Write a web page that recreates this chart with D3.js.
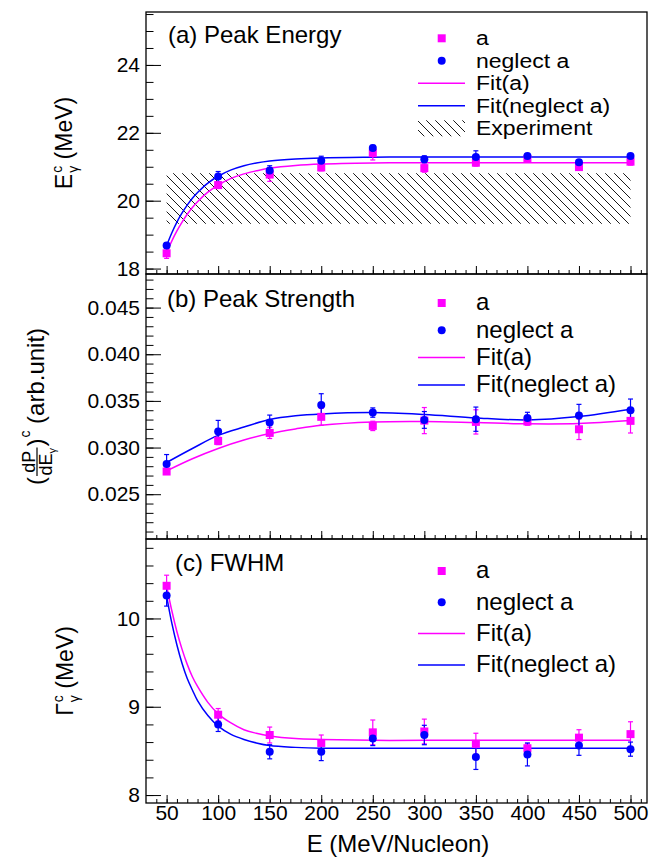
<!DOCTYPE html>
<html>
<head>
<meta charset="utf-8">
<script src="https://cdn.jsdelivr.net/npm/d3@7"></script>
<style>
  body { margin: 0; background: #fff; }
  text { font-family: "Liberation Sans", Arial, Helvetica, sans-serif; fill: #000; }
</style>
</head>
<body>
<svg id="chart"></svg>
<script>
const width = 660;
const height = 857;

// beam energies (MeV/nucleon)
const energies = [50, 100, 150, 200, 250, 300, 350, 400, 450, 500];

// (a) peak energy
const energyA = [18.45, 20.46, 20.77, 20.98, 21.40, 20.96, 21.12, 21.23, 20.99, 21.15];
const energyAErr = [0.15, 0.1, 0.2, 0.1, 0.2, 0.12, 0.1, 0.08, 0.08, 0.1];
const energyN = [18.68, 20.71, 20.89, 21.18, 21.55, 21.22, 21.29, 21.32, 21.13, 21.32];
const energyNErr = [0.08, 0.15, 0.14, 0.13, 0.08, 0.1, 0.18, 0.06, 0.06, 0.06];
const fitXA = [50, 55, 60, 65, 70, 75, 80, 90, 100, 112, 125, 137, 150, 175, 200, 250, 300, 400, 500];
const fitEnergyA = [18.47, 18.81, 19.11, 19.37, 19.60, 19.80, 19.97, 20.25, 20.46, 20.65, 20.79, 20.88, 20.96, 21.04, 21.08, 21.11, 21.12, 21.12, 21.12];
const fitEnergyN = [18.68, 19.05, 19.37, 19.64, 19.87, 20.07, 20.24, 20.52, 20.72, 20.90, 21.03, 21.11, 21.17, 21.23, 21.26, 21.28, 21.29, 21.29, 21.29];
const expBand = [19.32, 20.81];
const expRange = [50, 500];

// (b) peak strength
const strengthA = [0.02743, 0.03071, 0.03157, 0.03329, 0.03232, 0.03289, 0.03275, 0.03279, 0.03196, 0.03286];
const strengthAErr = [0.0003, 0.0004, 0.0006, 0.0009, 0.0005, 0.0014, 0.0013, 0.0004, 0.0011, 0.0013];
const strengthN = [0.02825, 0.03171, 0.03268, 0.03457, 0.03375, 0.03296, 0.03304, 0.03318, 0.03343, 0.03400];
const strengthNErr = [0.001, 0.0012, 0.0008, 0.0012, 0.0005, 0.0009, 0.0013, 0.0006, 0.0012, 0.0012];
const fitXB = [50, 75, 100, 125, 150, 175, 200, 250, 300, 350, 400, 450, 500];
const fitStrengthA = [0.0275, 0.0288, 0.0299, 0.0308, 0.0315, 0.0320, 0.0324, 0.03275, 0.0328, 0.03268, 0.03254, 0.03257, 0.03289];
const fitStrengthN = [0.0284, 0.0299, 0.0313, 0.0322, 0.0330, 0.0334, 0.0336, 0.03375, 0.03354, 0.03318, 0.03296, 0.03332, 0.0341];

// (c) FWHM
const widthA = [10.37, 8.91, 8.68, 8.59, 8.71, 8.72, 8.58, 8.53, 8.65, 8.69];
const widthAErr = [0.12, 0.07, 0.09, 0.09, 0.14, 0.14, 0.12, 0.05, 0.09, 0.14];
const widthN = [10.26, 8.80, 8.49, 8.49, 8.64, 8.68, 8.43, 8.46, 8.56, 8.52];
const widthNErr = [0.12, 0.08, 0.08, 0.1, 0.08, 0.11, 0.14, 0.13, 0.11, 0.08];
const fitXC = [50, 55, 60, 65, 70, 75, 80, 90, 100, 112, 125, 137, 150, 175, 200, 250, 300, 400, 500];
const fitWidthA = [10.37, 10.09, 9.85, 9.65, 9.48, 9.34, 9.23, 9.05, 8.92, 8.82, 8.74, 8.70, 8.67, 8.64, 8.63, 8.62, 8.62, 8.62, 8.62];
const fitWidthN = [10.25, 9.95, 9.70, 9.49, 9.32, 9.19, 9.07, 8.90, 8.78, 8.69, 8.63, 8.59, 8.56, 8.54, 8.53, 8.53, 8.53, 8.53, 8.53];

// tick labels
const xTicks = [50, 100, 150, 200, 250, 300, 350, 400, 450, 500];
const yTicksA = [18, 20, 22, 24];
const yTicksB = [0.025, 0.030, 0.035, 0.040, 0.045];
const yTicksC = [8, 9, 10];

const magenta = "#ff00ff";
const blue = "#0000ff";

const left = 146, right = 647;
const x = d3.scaleLinear().domain([30, 516]).range([left, right]);

const svg = d3.select("#chart").attr("width", width).attr("height", height);

// hatch pattern for the experiment band
svg.append("defs").append("pattern")
  .attr("id", "hatch")
  .attr("patternUnits", "userSpaceOnUse")
  .attr("width", 9).attr("height", 9)
  .append("path")
  .attr("d", "M0,0L9,9M-2,7L2,11M7,-2L11,2")
  .attr("stroke", "#000")
  .attr("stroke-width", 0.9);

const panels = [
  {
    top: 12, bottom: 274, domain: [17.84, 25.56], ticks: yTicksA, minor: d3.range(18, 25.6, 0.5),
    fmt: d3.format("d"), a: energyA, aErr: energyAErr, n: energyN, nErr: energyNErr,
    fitX: fitXA, fitA: fitEnergyA, fitN: fitEnergyN, label: "(a) Peak Energy", labelX: 168, labelY: 43,
    legend: { y0: 38.3, dy: 22.5, band: true, size: 19.5, wide: 23 }, titleX: 72, title: "E", band: true
  },
  {
    top: 274, bottom: 539, domain: [0.0202, 0.0486], ticks: yTicksB, minor: d3.range(0.021, 0.0486, 0.001),
    fmt: d3.format(".3f"), a: strengthA, aErr: strengthAErr, n: strengthN, nErr: strengthNErr,
    fitX: fitXB, fitA: fitStrengthA, fitN: fitStrengthN, label: "(b) Peak Strength", labelX: 167, labelY: 307,
    legend: { y0: 303, dy: 27.3, band: false, size: 24, wide: 24 }, titleX: 44, title: "frac", band: false
  },
  {
    top: 539, bottom: 803, domain: [7.91, 10.9], ticks: yTicksC, minor: d3.range(8, 10.9, 0.2),
    fmt: d3.format("d"), a: widthA, aErr: widthAErr, n: widthN, nErr: widthNErr,
    fitX: fitXC, fitA: fitWidthA, fitN: fitWidthN, label: "(c) FWHM", labelX: 175, labelY: 571,
    legend: { y0: 571, dy: 31.3, band: false, size: 24, wide: 24 }, titleX: 73, title: "Γ", band: false
  }
];

panels.forEach((p, pi) => {
  const y = d3.scaleLinear().domain(p.domain).range([p.bottom, p.top]);
  const g = svg.append("g");

  // experiment band
  if (p.band) {
    g.append("rect")
      .attr("x", x(expRange[0]))
      .attr("y", y(expBand[1]))
      .attr("width", x(expRange[1]) - x(expRange[0]))
      .attr("height", y(expBand[0]) - y(expBand[1]))
      .attr("fill", "url(#hatch)");
  }

  // fit curves
  const line = d3.line()
    .x((d) => x(d[0]))
    .y((d) => y(d[1]))
    .curve(d3.curveCatmullRom.alpha(0.5));

  g.append("path")
    .datum(p.fitX.map((e, i) => [e, p.fitA[i]]))
    .attr("d", line)
    .attr("fill", "none")
    .attr("stroke", magenta)
    .attr("stroke-width", 1.5);

  g.append("path")
    .datum(p.fitX.map((e, i) => [e, p.fitN[i]]))
    .attr("d", line)
    .attr("fill", "none")
    .attr("stroke", blue)
    .attr("stroke-width", 1.5);

  // error bars
  const drawErrors = (vals, errs, color) => {
    const eg = g.append("g").attr("stroke", color).attr("stroke-width", 1.2);
    energies.forEach((e, i) => {
      const cx = x(e);
      const y1 = y(vals[i] - errs[i]);
      const y2 = y(vals[i] + errs[i]);
      eg.append("line").attr("x1", cx).attr("x2", cx).attr("y1", y1).attr("y2", y2);
      eg.append("line").attr("x1", cx - 2.5).attr("x2", cx + 2.5).attr("y1", y1).attr("y2", y1);
      eg.append("line").attr("x1", cx - 2.5).attr("x2", cx + 2.5).attr("y1", y2).attr("y2", y2);
    });
  };
  drawErrors(p.a, p.aErr, magenta);
  drawErrors(p.n, p.nErr, blue);

  // markers
  g.selectAll(".sq")
    .data(energies)
    .enter()
    .append("rect")
    .attr("x", (d) => x(d) - 4)
    .attr("y", (d, i) => y(p.a[i]) - 4)
    .attr("width", 8)
    .attr("height", 8)
    .attr("fill", magenta);

  g.selectAll(".dot")
    .data(energies)
    .enter()
    .append("circle")
    .attr("cx", (d) => x(d))
    .attr("cy", (d, i) => y(p.n[i]))
    .attr("r", 4)
    .attr("fill", blue);

  // y axis, ticks inward
  const yMajor = g.append("g")
    .attr("transform", `translate(${left},0)`)
    .call(d3.axisLeft(y).tickValues(p.ticks).tickSize(-15).tickPadding(6).tickFormat(p.fmt));
  const yMinor = g.append("g")
    .attr("transform", `translate(${left},0)`)
    .call(d3.axisLeft(y).tickValues(p.minor).tickSize(-7.5).tickFormat(""));

  // x axis at the bottom of the panel
  const xMajor = g.append("g")
    .attr("transform", `translate(0,${p.bottom})`)
    .call(d3.axisBottom(x).tickValues(xTicks).tickSize(-8).tickPadding(2)
      .tickFormat(pi === 2 ? d3.format("d") : ""));
  const xMinor = g.append("g")
    .attr("transform", `translate(0,${p.bottom})`)
    .call(d3.axisBottom(x).tickValues(d3.range(40, 516, 10)).tickSize(-4).tickFormat(""));

  [yMajor, yMinor, xMajor, xMinor].forEach((a) => {
    a.select(".domain").remove();
    a.selectAll("line").attr("stroke", "#000").attr("stroke-width", 1);
    a.selectAll("text").style("font-size", "21px").attr("fill", "#000")
      .style("font-family", "'Liberation Sans', Arial, sans-serif");
  });

  // frame
  g.append("rect")
    .attr("x", left).attr("y", p.top)
    .attr("width", right - left).attr("height", p.bottom - p.top)
    .attr("fill", "none").attr("stroke", "#000").attr("stroke-width", 1.3);

  // panel label
  g.append("text")
    .attr("x", p.labelX).attr("y", p.labelY)
    .style("font-size", "24px")
    .text(p.label);

  // legend
  const lg = g.append("g");
  const ly = (k) => p.legend.y0 + k * p.legend.dy;
  lg.append("rect").attr("x", 437.7).attr("y", ly(0) - 4).attr("width", 8).attr("height", 8).attr("fill", magenta);
  lg.append("circle").attr("cx", 441.7).attr("cy", ly(1)).attr("r", 4).attr("fill", blue);
  lg.append("line").attr("x1", 418).attr("x2", 465).attr("y1", ly(2)).attr("y2", ly(2))
    .attr("stroke", magenta).attr("stroke-width", 1.5);
  lg.append("line").attr("x1", 418).attr("x2", 465).attr("y1", ly(3)).attr("y2", ly(3))
    .attr("stroke", blue).attr("stroke-width", 1.5);
  const names = ["a", "neglect a", "Fit(a)", "Fit(neglect a)"];
  if (p.legend.band) {
    lg.append("rect").attr("x", 418).attr("y", ly(4) - 8).attr("width", 47).attr("height", 16)
      .attr("fill", "url(#hatch)");
    names.push("Experiment");
  }
  names.forEach((n, k) => {
    const t = lg.append("text").attr("x", 476).attr("y", ly(k) + 0.3 * p.legend.wide)
      .style("font-size", p.legend.size + "px").text(n);
    if (p.legend.wide !== p.legend.size) {
      const w = t.node().getComputedTextLength() * p.legend.wide / p.legend.size;
      t.attr("textLength", w).attr("lengthAdjust", "spacingAndGlyphs");
    }
  });

  // y title (rotated)
  const cy = (p.top + p.bottom) / 2;
  const tg = svg.append("g").attr("transform", `translate(${p.titleX},${cy}) rotate(-90)`);
  const inner = tg.append("g");
  const put = (t, size, px, py) => {
    const el = inner.append("text").attr("x", px).attr("y", py).style("font-size", size + "px").text(t);
    return el.node().getComputedTextLength();
  };
  let cur = 0;
  if (p.title === "frac") {
    const fs = 24;
    cur += put("(", fs, cur, 0) + 1;
    const num = inner.append("text").attr("y", -9.5).style("font-size", "18px").text("dP");
    const den = inner.append("text").attr("y", 7.5).style("font-size", "18px");
    den.append("tspan").text("dE");
    den.append("tspan").attr("dy", 4).style("font-size", "11px").text("γ");
    const wNum = num.node().getComputedTextLength();
    const wDen = den.node().getComputedTextLength();
    const fw = Math.max(wNum, wDen) + 1;
    num.attr("x", cur + (fw - wNum) / 2);
    den.attr("x", cur + (fw - wDen) / 2);
    inner.append("line").attr("x1", cur).attr("x2", cur + fw).attr("y1", -7).attr("y2", -7)
      .attr("stroke", "#000").attr("stroke-width", 1.2);
    cur += fw + 1;
    cur += put(")", fs, cur, 0);
    cur += put("c", 14, cur + 1, -14) + 1;
    cur += put("\u00a0(arb.unit)", fs, cur, 0);
  } else {
    const fs = 23;
    cur += put(p.title, fs, cur, 0);
    const w1 = put("c", 14, cur + 1, -10);
    const w2 = put("γ", 14, cur + 1, 6);
    cur += Math.max(w1, w2) + 1;
    cur += put("\u00a0(MeV)", fs, cur, 0);
  }
  inner.attr("transform", `translate(${-cur / 2},0)`);
});

// x title
svg.append("text")
  .attr("x", 398).attr("y", 852)
  .attr("text-anchor", "middle")
  .style("font-size", "24px")
  .text("E (MeV/Nucleon)");
</script>
</body>
</html>
